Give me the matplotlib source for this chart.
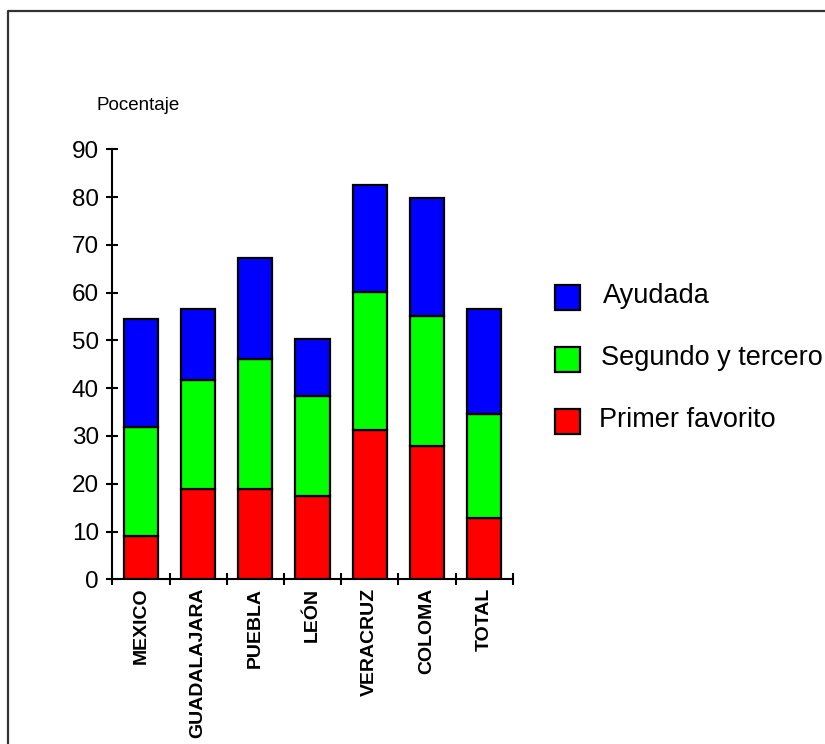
import matplotlib
matplotlib.use("Agg")
import matplotlib.pyplot as plt
from matplotlib.patches import Rectangle
from matplotlib.lines import Line2D
import numpy as np

plt.rcParams['font.family'] = ['Liberation Sans', 'DejaVu Sans']

categories = ["MEXICO", "GUADALAJARA", "PUEBLA", "LEÓN", "VERACRUZ", "COLOMA", "TOTAL"]
primer_favorito = [9.0, 19.0, 19.0, 17.4, 31.2, 27.9, 12.8]
segundo_tercero = [22.8, 22.7, 27.2, 20.9, 28.9, 27.2, 21.8]
ayudada = [22.6, 14.8, 21.0, 12.0, 22.5, 24.8, 21.9]
series_names = ["Ayudada", "Segundo y tercero", "Primer favorito"]
y_ticks = [0, 10, 20, 30, 40, 50, 60, 70, 80, 90]

W, H = 825, 744
fig = plt.figure(figsize=(W / 100, H / 100), dpi=100)
ax = fig.add_axes([112.3 / W, 1 - 579.3 / H, (512.7 - 112.3) / W, (579.3 - 149.3) / H])

x = np.arange(len(categories))
red = np.array(primer_favorito)
green = np.array(segundo_tercero)
blue = np.array(ayudada)
kw = dict(width=0.6, edgecolor="black", linewidth=1.6)
ax.bar(x, red, color="#FF0000", **kw)
ax.bar(x, green, bottom=red, color="#00FF00", **kw)
ax.bar(x, blue, bottom=red + green, color="#0000FF", **kw)

ax.set_xlim(-0.5, len(categories) - 0.5)
ax.set_ylim(0, 90)
for s in ("top", "right"):
    ax.spines[s].set_visible(False)
for s in ("left", "bottom"):
    ax.spines[s].set_linewidth(1.5)

ax.set_yticks(y_ticks)
ax.set_yticklabels([str(v) for v in y_ticks], fontsize=17.5)
ax.tick_params(axis="y", direction="inout", length=9, width=1.5, pad=5)

# category boundaries as major ticks, names centered as minor ticks
ax.set_xticks(np.arange(-0.5, len(categories), 1.0))
ax.set_xticklabels([])
ax.tick_params(axis="x", which="major", direction="inout", length=9, width=1.5)
ax.set_xticks(x, minor=True)
ax.set_xticklabels(categories, minor=True, rotation=90, fontsize=14,
                   fontweight="bold", va="top", ha="center")
ax.tick_params(axis="x", which="minor", length=0, pad=6)

fig.text(97 / W, 1 - 106 / H, "Pocentaje", fontsize=13.5, va="center", ha="left")

# legend keys drawn beside the plot
legend_colors = ["#0000FF", "#00FF00", "#FF0000"]
key_tops = [285, 347, 409]
text_x = [603, 601, 599]
for name, col, top, tx in zip(series_names, legend_colors, key_tops, text_x):
    fig.patches.append(Rectangle((555 / W, 1 - (top + 25) / H), 25 / W, 25 / H,
                                 transform=fig.transFigure, facecolor=col,
                                 edgecolor="black", linewidth=1.6))
    fig.text(tx / W, 1 - (top + 11) / H, name, fontsize=19.5, va="center", ha="left")

# outer frame (left and top edges)
fig.lines.append(Line2D([8 / W, 8 / W, 1.0], [0.0, 1 - 11 / H, 1 - 11 / H],
                        transform=fig.transFigure, color="#333333", linewidth=1.6))

fig.savefig("out.png", dpi=100)
